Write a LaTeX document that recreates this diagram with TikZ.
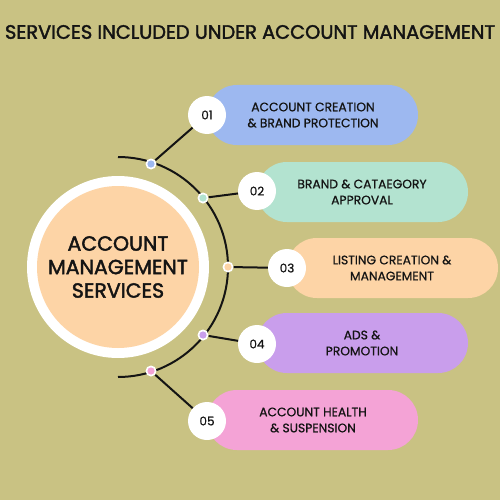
\documentclass[tikz,border=0pt]{standalone}
\usepackage{fontspec}
\setmainfont{Poppins}
\newfontfamily\medfont[FakeBold=0.8]{Poppins}
\newfontfamily\headfont[FakeBold=2]{Poppins}
\usepackage{graphicx}
\definecolor{bg}{HTML}{C9C283}
\definecolor{cblue}{HTML}{9DB8F0}
\definecolor{cmint}{HTML}{B3E3D0}
\definecolor{cpeach}{HTML}{FDD4A6}
\definecolor{clav}{HTML}{C99EEC}
\definecolor{cpink}{HTML}{F4A3D6}
\definecolor{ink}{HTML}{141414}
\begin{document}
\begin{tikzpicture}[x=1pt,y=-1pt,
  numc/.style={circle,fill=white,minimum size=38pt,inner sep=0pt,font=\medfont\fontsize{12}{12}\selectfont,text=ink},
  ptext/.style={align=center,font=\medfont\fontsize{12.3}{16}\selectfont,text=ink},
  link/.style={line width=2pt,ink},
  dotw/.style={circle,fill=white,minimum size=11pt,inner sep=0pt},
]
\fill[bg] (0,0) rectangle (500,500);
\useasboundingbox (0,0) rectangle (500,500);
% title
\node[text=ink] (title) at (250,32) {\resizebox{490pt}{!}{\headfont SERVICES INCLUDED UNDER ACCOUNT MANAGEMENT}};
% arc
\coordinate (c) at (118,267);
\draw[link] (118,157) arc[start angle=-90,end angle=90,radius=110];
% main circle
\node[circle,fill=white,minimum size=182pt,inner sep=0pt] (mainw) at (c) {};
\node[circle,fill=cpeach,minimum size=162pt,inner sep=0pt,align=center,text=ink,font=\headfont\fontsize{20.5}{23.5}\selectfont] (main) at (c) {ACCOUNT\\MANAGEMENT\\SERVICES};
% pills
\fill[cblue,rounded corners=29.9pt] (207,85) rectangle (418,145);
\fill[cmint,rounded corners=29.9pt] (257,162) rectangle (468,222);
\fill[cpeach,rounded corners=29.9pt] (287,238) rectangle (498,298);
\fill[clav,rounded corners=29.9pt] (257,313) rectangle (468,373);
\fill[cpink,rounded corners=29.9pt] (207,390) rectangle (418,450);
\node[ptext] (t1) at (313,115) {ACCOUNT CREATION\\\& BRAND PROTECTION};
\node[ptext] (t2) at (362,192) {BRAND \& CATAEGORY\\APPROVAL};
\node[ptext] (t3) at (392,268) {LISTING CREATION \&\\MANAGEMENT};
\node[ptext] (t4) at (362,343) {ADS \&\\PROMOTION};
\node[ptext] (t5) at (313,420) {ACCOUNT HEALTH\\\& SUSPENSION};
% dots
\node[dotw] (d1) at (151,164) {};
\node[dotw] (d2) at (203,198) {};
\node[dotw] (d3) at (228,267) {};
\node[dotw] (d4) at (203,335) {};
\node[dotw] (d5) at (151,371) {};
% number circles
\node[numc] (n1) at (207,115) {01};
\node[numc] (n2) at (257,191) {02};
\node[numc] (n3) at (287,268) {03};
\node[numc] (n4) at (257,344) {04};
\node[numc] (n5) at (207,421) {05};
% connectors
\draw[link] (d1) -- (n1);
\draw[link] (d2) -- (n2);
\draw[link] (d3) -- (n3);
\draw[link] (d4) -- (n4);
\draw[link] (d5) -- (n5);
% dot centers
\fill[cblue] (d1) circle (3.6);
\fill[cmint] (d2) circle (3.6);
\fill[cpeach] (d3) circle (3.6);
\fill[clav] (d4) circle (3.6);
\fill[cpink] (d5) circle (3.6);
\end{tikzpicture}
\end{document}
